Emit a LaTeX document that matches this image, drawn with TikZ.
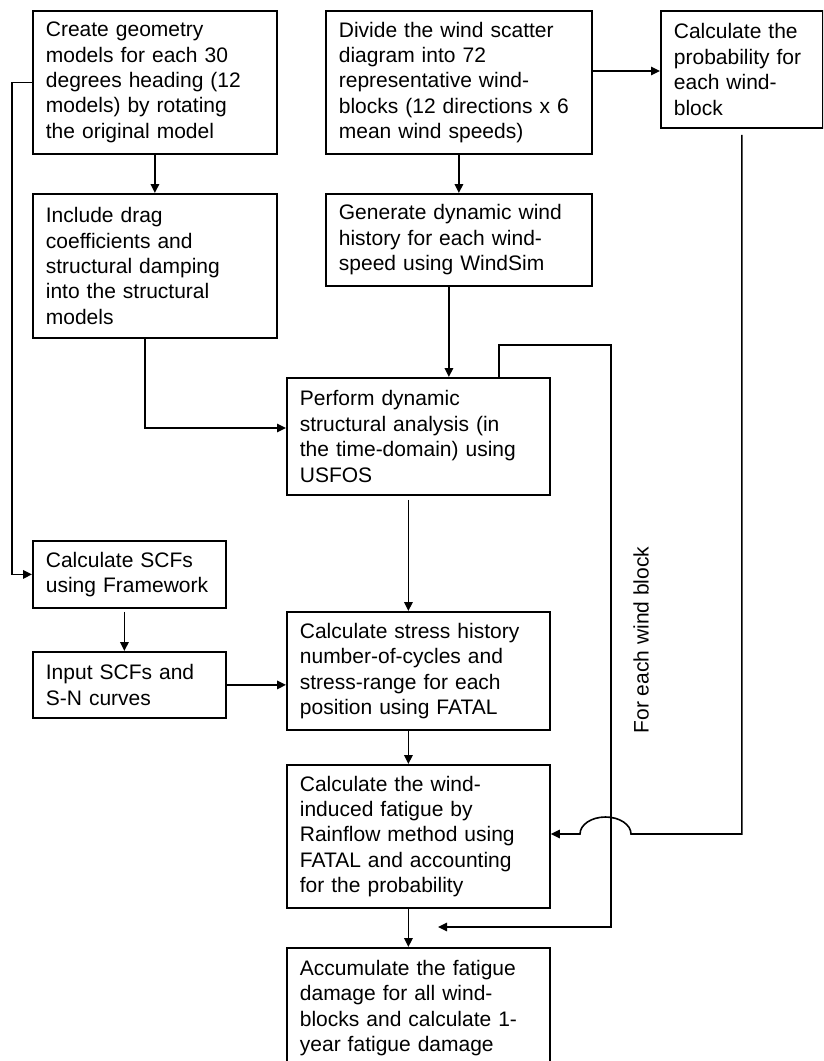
\documentclass[tikz,border=0pt]{standalone}
\usepackage{fontspec}
\setmainfont{Liberation Sans}
\usetikzlibrary{arrows.meta,calc}

\begin{document}
\begin{tikzpicture}[x=1pt,y=-1pt,
  box/.style={draw, line width=1.8pt, anchor=north west, align=left,
    inner xsep=13pt, inner ysep=0pt, font=\fontsize{21}{25.4}\selectfont},
  link/.style={line width=1.6pt, -{Triangle[length=9pt,width=8.5pt]}},
  lbl/.style={font=\fontsize{21}{25.4}\selectfont}
]
\path[use as bounding box, clip] (0,0) rectangle (823,1061);

% process boxes
\node[box, text width=218pt, minimum height=143pt] (geom) at (32,10)
  {Create geometry\\models for each 30\\degrees heading (12\\models) by rotating\\the original model};
\node[box, text width=218pt, minimum height=144pt] (drag) at (32,193)
  {Include drag\\coefficients and\\structural damping\\into the structural\\models};
\node[box, text width=240pt, minimum height=143pt] (divide) at (325,10)
  {Divide the wind scatter\\diagram into 72\\representative wind-\\blocks (12 directions x 6\\mean wind speeds)};
\node[box, text width=136pt, minimum height=117pt] (prob) at (660,10)
  {Calculate the\\probability for\\each wind-\\block};
\node[box, text width=240pt, minimum height=92pt] (gen) at (325,193)
  {Generate dynamic wind\\history for each wind-\\speed using WindSim};
\node[box, text width=237pt, minimum height=117pt] (usfos) at (286,377)
  {Perform dynamic\\structural analysis (in\\the time-domain) using\\USFOS};
\node[box, text width=167pt, minimum height=67pt] (scf) at (32,540)
  {Calculate SCFs\\using Framework};
\node[box, text width=167pt, minimum height=66pt] (sn) at (32,651)
  {Input SCFs and\\S-N curves};
\node[box, text width=237pt, minimum height=118pt] (stress) at (286,611)
  {Calculate stress history\\number-of-cycles and\\stress-range for each\\position using FATAL};
\node[box, text width=237pt, minimum height=143pt] (rain) at (286,764)
  {Calculate the wind-\\induced fatigue by\\Rainflow method using\\FATAL and accounting\\for the probability};
\node[box, text width=237pt, minimum height=120pt] (accum) at (286,947)
  {Accumulate the fatigue\\damage for all wind-\\blocks and calculate 1-\\year fatigue damage\\[3pt]};

% loop label
\node[lbl, rotate=90] (each) at (641,640) {For each wind block};

% helper points
\coordinate (loopcorner) at (611,345);
\coordinate (loopend) at (438,927);
\coordinate (hopR) at (631,834);
\coordinate (hopL) at (580,834);

% connectors
\draw[link] (geom.south) -- (drag.north);
\draw[link] ([yshift=-61pt]divide.north east) -- ([yshift=-61pt]prob.north west);
\draw[link] (divide.south) -- (gen.north);
\draw[link] ([xshift=-10pt]gen.south) -- ([xshift=-10pt]gen.south |- usfos.north);
\draw[link] ([xshift=-10pt]drag.south) |- ([yshift=-51pt]usfos.north west);
\draw[link] (geom.west) -- ++(-20,0) |- (scf.west);
\draw[link, shorten <=4pt] ([xshift=-10pt]usfos.south) -- ([xshift=-10pt]usfos.south |- stress.north);
\draw[link, shorten <=3pt] ([xshift=-5pt]scf.south) -- ([xshift=-5pt]scf.south |- sn.north);
\draw[link] (sn.east) -- (sn.east -| stress.west);
\draw[link] ([xshift=-10pt]stress.south) -- ([xshift=-10pt]stress.south |- rain.north);
\draw[link] ([xshift=-10pt]rain.south) -- ([xshift=-10pt]rain.south |- accum.north);

% repeat loop for each wind block
\draw[link] ([xshift=213pt]usfos.north west) |- (loopcorner) |- (loopend);

% probability feed, hopping over the loop line
\draw[link, shorten <=6pt] (prob.south) |- (hopR)
  arc[start angle=0, end angle=180, x radius=25.5pt, y radius=17pt]
  -- (hopL -| rain.east);
\end{tikzpicture}
\end{document}
